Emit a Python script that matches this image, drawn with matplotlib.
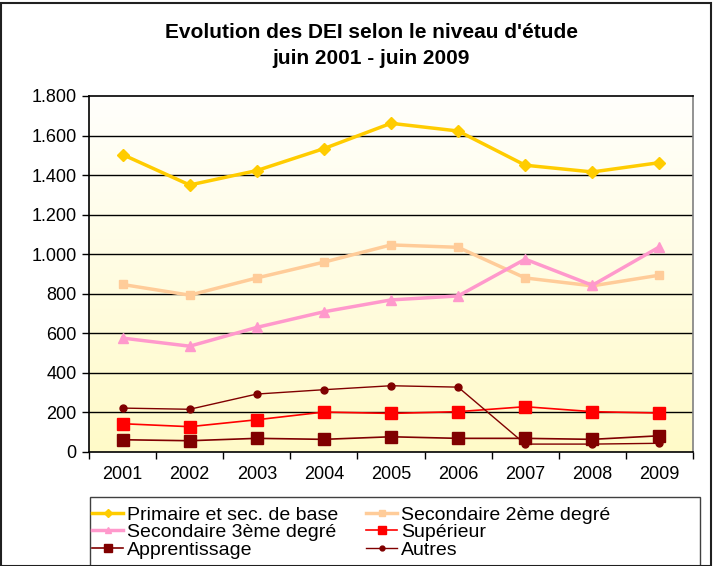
import matplotlib
matplotlib.use('Agg')
import matplotlib.pyplot as plt
import numpy as np
from matplotlib.ticker import FuncFormatter, FixedLocator
from matplotlib.patches import Rectangle

plt.rcParams['font.family'] = ['Liberation Sans', 'DejaVu Sans']

# donnees
annees = ['2001', '2002', '2003', '2004', '2005', '2006', '2007', '2008', '2009']
primaire = [1504, 1350, 1423, 1534, 1662, 1623, 1450, 1416, 1463]
second_2 = [847, 793, 880, 960, 1047, 1035, 880, 840, 894]
second_3 = [576, 535, 630, 709, 769, 789, 975, 843, 1037]
superieur = [143, 128, 163, 202, 195, 204, 229, 204, 197]
apprentissage = [62, 57, 69, 64, 77, 69, 69, 64, 82]
autres = [222, 216, 293, 315, 335, 328, 40, 40, 44]

fig = plt.figure(figsize=(7.14, 5.66), dpi=100)
ax = fig.add_axes([89 / 714, 1 - 452 / 566, 604 / 714, 356 / 566])

x = np.arange(len(annees))

# fond en degrade blanc -> jaune pale
grad = np.linspace(0, 1, 256).reshape(-1, 1)
top = np.array([255, 255, 252]) / 255
bot = np.array([255, 250, 200]) / 255
img = top + (bot - top) * grad[:, :, None]
ax.imshow(img, extent=[0, 1, 0, 1], transform=ax.transAxes, aspect='auto', zorder=0)

for yv in range(200, 1800, 200):
    ax.axhline(yv, color='black', lw=1, zorder=1)

h1, = ax.plot(x, primaire, color='#FFCC00', lw=2.5, marker='D', ms=6, zorder=3)
h2, = ax.plot(x, second_2, color='#FFCC99', lw=2.5, marker='s', ms=6, zorder=3)
h3, = ax.plot(x, second_3, color='#FF99CC', lw=2.5, marker='^', ms=7, zorder=3)
h4, = ax.plot(x, superieur, color='#FF0000', lw=1.2, marker='s', ms=9, zorder=3)
h5, = ax.plot(x, apprentissage, color='#800000', lw=1.2, marker='s', ms=9, zorder=3)
h6, = ax.plot(x, autres, color='#800000', lw=1, marker='o', ms=5, zorder=3)

ax.set_xlim(-0.5, len(annees) - 0.5)
ax.set_ylim(0, 1800)
ax.set_yticks(range(0, 2000, 200))
ax.yaxis.set_major_formatter(FuncFormatter(lambda v, p: f"{int(v):,}".replace(',', '.')))
ax.set_xticks(x)
ax.set_xticklabels(annees)
ax.xaxis.set_minor_locator(FixedLocator(np.arange(-0.5, len(annees), 1)))
ax.tick_params(axis='x', which='major', length=0, pad=10, labelsize=13)
ax.tick_params(axis='x', which='minor', length=5, width=1, direction='out')
ax.tick_params(axis='y', length=5, width=1, direction='out', labelsize=13, pad=4)
for s in ax.spines.values():
    s.set_linewidth(1.2)
    s.set_color('black')
ax.spines['right'].set_color('#808080')

fig.text(0.52, 1 - 32 / 566, "Evolution des DEI selon le niveau d'étude",
         ha='center', va='center', fontsize=15, fontweight='bold')
fig.text(0.52, 1 - 58 / 566, "juin 2001 - juin 2009",
         ha='center', va='center', fontsize=15, fontweight='bold')

# legende en deux colonnes dans un cadre commun
leg_kw = dict(loc='upper left', fontsize=14, frameon=False, borderpad=0,
              labelspacing=0.0, handlelength=1.6, handletextpad=0.2,
              borderaxespad=0, markerscale=0.7)
leg1 = fig.legend([h1, h3, h5],
                  ['Primaire et sec. de base', 'Secondaire 3ème degré', 'Apprentissage'],
                  bbox_to_anchor=(92 / 714, 1 - 506 / 566), **leg_kw)
leg2 = fig.legend([h2, h4, h6],
                  ['Secondaire 2ème degré', 'Supérieur', 'Autres'],
                  bbox_to_anchor=(366 / 714, 1 - 506 / 566), **leg_kw)

fig.patches.append(Rectangle((90 / 714, -0.05), 610 / 714, 0.05 + 1 - 497 / 566,
                             transform=fig.transFigure, fill=False,
                             edgecolor='#404040', lw=1))
fig.patches.append(Rectangle((0.002, 0.0), 0.994, 0.995, transform=fig.transFigure,
                             fill=False, edgecolor='#202020', lw=1.5))

fig.savefig('out.png', dpi=100)
